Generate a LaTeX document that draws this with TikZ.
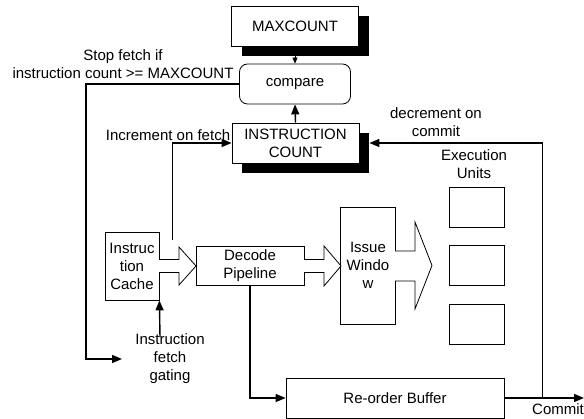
\documentclass[tikz,border=0pt]{standalone}
\usepackage{fontspec}
\setmainfont{Liberation Sans}
\usepackage{tikz}
\usetikzlibrary{arrows.meta,calc,shadows}

\begin{document}
\begin{tikzpicture}[x=1pt,y=-1pt,
  every node/.style={font=\fontsize{15}{18}\selectfont},
  blk/.style={draw,line width=0.8pt,fill=white,inner sep=2pt,align=center},
  shad/.style={blk,drop shadow={shadow xshift=10pt,shadow yshift=-10pt,fill=black,opacity=1}},
  conn/.style={line width=1.4pt,-{Triangle[length=10pt,width=8pt]}},
  txt/.style={align=center,inner sep=0pt}]
\useasboundingbox (0,0) rectangle (584,419);

% counter part
\node[shad,minimum width=127pt,minimum height=40pt] (maxcount) at (295,26) {MAXCOUNT};
\node[blk,rounded corners=8pt,minimum width=111pt,minimum height=40pt] (compare) at (295,84) {compare};
\node[shad,minimum width=127pt,minimum height=40pt] (count) at (295.5,143) {INSTRUCTION\\COUNT};

% pipeline
\node[blk,minimum width=54pt,minimum height=68pt] (cache) at (132,266) {Instruc\\tion\\Cache};
\node[blk,minimum width=108pt,minimum height=39pt] (decode) at (250,265.5) {Decode\\Pipeline};
\node[blk,minimum width=55pt,minimum height=117pt] (issue) at (368,265.5) {Issue\\Windo\\w};
\foreach \i/\y in {1/207,2/265.5,3/324.5}
  \node[blk,minimum width=55pt,minimum height=40pt] (exec\i) at (476.5,\y) {};
\node[blk,minimum width=218pt,minimum height=40pt] (rob) at (395,398) {Re-order Buffer};

% labels
\node[txt] (stoplabel) at (123,64) {Stop fetch if\\instruction count >= MAXCOUNT};
\node[txt] (incrlabel) at (168,135) {Increment on fetch};
\node[txt] (decrlabel) at (436,122) {decrement on\\commit};
\node[txt] (execlabel) at (474,164) {Execution\\Units};
\node[txt] (gating) at (170,359) {Instruction\\fetch\\gating};
\node[txt,anchor=west] (commitlabel) at (532,409) {Commit};

% hollow arrows
\draw[line width=0.8pt,fill=white] (159,259.5) -- (179,259.5) -- (179,247) -- (196,266) -- (179,285) -- (179,272.5) -- (159,272.5);
\draw[line width=0.8pt,fill=white] (304,259.5) -- (324,259.5) -- (324,246) -- (341,266) -- (324,286) -- (324,272.5) -- (304,272.5);
\draw[line width=0.8pt,fill=white] (395,251) -- (415,251) -- (415,222) -- (432,265.5) -- (415,309) -- (415,281) -- (395,281);

% connectors
\coordinate (fetchtap) at (172.5,240);
\coordinate (gateend) at (122,359);
\coordinate (gatetap) at (160,337);
\coordinate (commitcorner) at (542.5,398);
\coordinate (commitend) at (584,398);
\draw[line width=0.8pt,-{Triangle[length=6pt,width=5pt]}] (maxcount.south) -- (compare.north);
\draw[conn] (count.north) -- (compare.south);
\draw[conn] (fetchtap) |- (count.west);
\draw[conn] (compare.west) -- ++(-153,0) |- (gateend);
\draw[conn] (gatetap) -- (cache.south east);
\draw[conn] (decode.south) |- (rob.west);
\draw[conn] (rob.east) -- (commitend);
\draw[conn] (commitcorner) |- ([xshift=10pt]count.east);
\end{tikzpicture}
\end{document}
